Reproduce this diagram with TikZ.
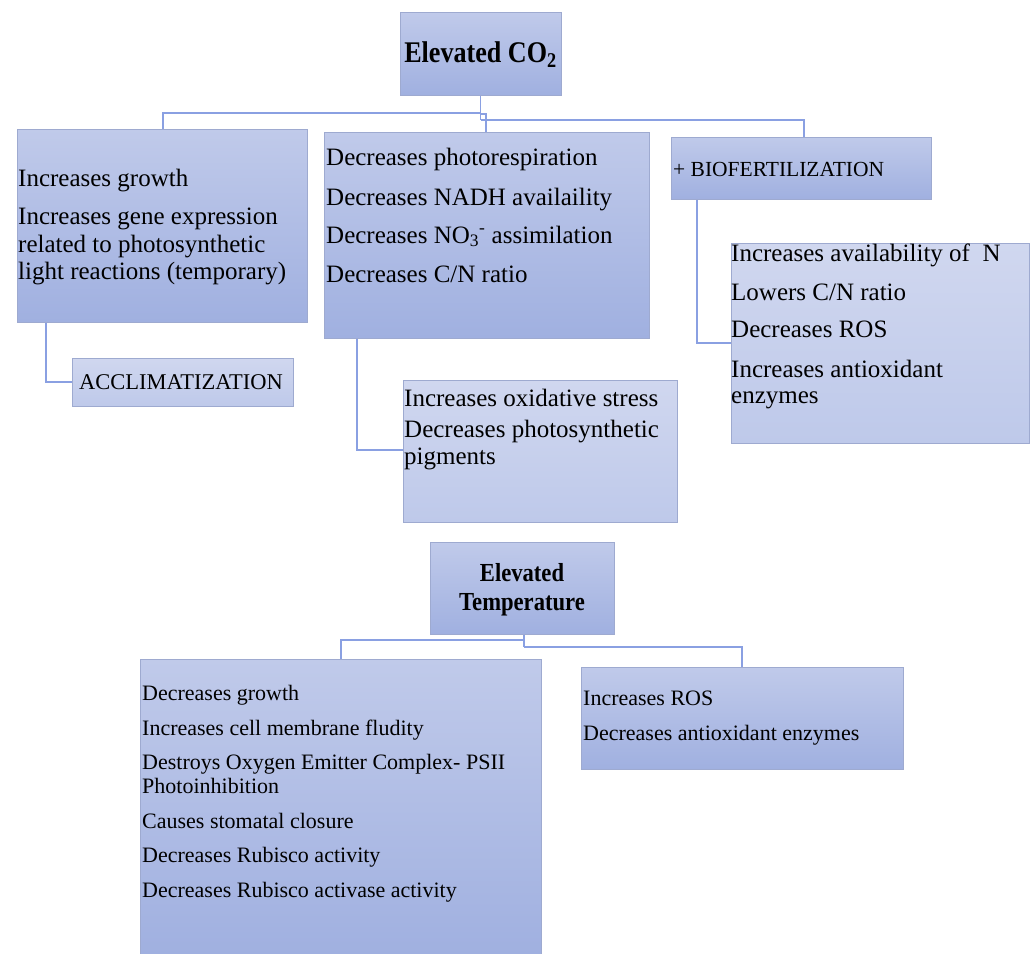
\documentclass[tikz,border=0pt]{standalone}
\usepackage{fontspec}
\setmainfont{Liberation Serif}
\newfontfamily\titlefont[FakeStretch=0.87]{Liberation Serif}
\definecolor{dtop}{RGB}{192,202,234}
\definecolor{dbot}{RGB}{160,176,224}
\definecolor{ltop}{RGB}{208,215,239}
\definecolor{lbot}{RGB}{190,201,234}
\definecolor{boxborder}{RGB}{158,170,208}
\definecolor{conncol}{RGB}{138,160,226}
\begin{document}
\begin{tikzpicture}[x=1pt,y=-1pt,
  box/.style={draw=boxborder, line width=1pt, inner sep=0pt, rectangle},
  dbox/.style={box, top color=dtop, bottom color=dbot},
  lbox/.style={box, top color=ltop, bottom color=lbot},
  txt/.style={anchor=base west, inner sep=0pt, font=\fontsize{25}{27.5}\selectfont},
  stxt/.style={anchor=base west, inner sep=0pt, font=\fontsize{22}{25}\selectfont},
  ctxt/.style={anchor=base west, inner sep=0pt, font=\fontsize{22.5}{25}\selectfont},
  btxt/.style={anchor=base west, inner sep=0pt, font=\fontsize{21.5}{25}\selectfont},
  ttl/.style={anchor=base, inner sep=0pt, font=\titlefont\bfseries\fontsize{30}{30}\selectfont},
  ttls/.style={anchor=base, inner sep=0pt, font=\titlefont\bfseries\fontsize{26}{26}\selectfont},
  conn/.style={draw=conncol, line width=1.3pt}]
\useasboundingbox[fill=white] (0,0) rectangle (1033,953);

% boxes
\node[dbox, minimum width=161pt, minimum height=83pt] (co2) at (480.5,53.5) {};
\node[dbox, minimum width=290pt, minimum height=193pt] (b1) at (162,225.5) {};
\node[lbox, minimum width=221pt, minimum height=48pt] (accl) at (182.5,382) {};
\node[dbox, minimum width=325pt, minimum height=206pt] (b2) at (486.5,235) {};
\node[dbox, minimum width=260pt, minimum height=62pt] (bio) at (801,168) {};
\node[lbox, minimum width=298pt, minimum height=200pt] (b4) at (880,343) {};
\node[lbox, minimum width=274pt, minimum height=142pt] (b5) at (540,451) {};
\node[dbox, minimum width=184pt, minimum height=92pt] (temp) at (522,588) {};
\node[dbox, minimum width=401pt, minimum height=296pt] (b6) at (340.5,807) {};
\node[dbox, minimum width=322pt, minimum height=102pt] (b7) at (742,718) {};

% connector junctions
\coordinate (j1) at (480.5,113);
\coordinate (j1l) at (163,113);
\coordinate (j2) at (486,114);
\coordinate (j3) at (480.5,120);
\coordinate (j3r) at (804,120);
\coordinate (a1) at (46,382);
\coordinate (a2) at (357,450);
\coordinate (a3) at (697,343);
\coordinate (t1) at (524,640);
\coordinate (t1l) at (341,640);
\coordinate (t2) at (524,647);
\coordinate (t2r) at (742,647);

\draw[conn] (co2.south) -- (j3);
\draw[conn] (j1) -- (j1l) -- (j1l |- b1.north);
\draw[conn] (j1 |- j2) -- (j2) -- (j2 |- b2.north);
\draw[conn] (j3) -- (j3r) -- (j3r |- bio.north);
\draw[conn] (a1 |- b1.south) -- (a1) -- (accl.west);
\draw[conn] (a2 |- b2.south) -- (a2) -- (a2 -| b5.west);
\draw[conn] (a3 |- bio.south) -- (a3) -- (a3 -| b4.west);
\draw[conn] (t1 |- temp.south) -- (t2);
\draw[conn] (t1) -- (t1l) -- (t1l |- b6.north);
\draw[conn] (t2) -- (t2r) -- (t2r |- b7.north);

% titles
\node[ttl] (co2t) at (480.5,62) {Elevated CO\textsubscript{2}};
\node[ttls] (tempt1) at (522,581) {Elevated};
\node[ttls] (tempt2) at (522,610) {Temperature};

% box 1
\node[txt] (b1l1) at (18,186) {Increases growth};
\node[txt] (b1l2) at (18,224) {Increases gene expression};
\node[txt] (b1l3) at (18,252) {related to photosynthetic};
\node[txt] (b1l4) at (18,279) {light reactions (temporary)};
\node[ctxt] (accll) at (79,389) {ACCLIMATIZATION};

% box 2
\node[txt] (b2l1) at (326,165) {Decreases photorespiration};
\node[txt] (b2l2) at (326,205) {Decreases NADH availaility};
\node[txt] (b2l3) at (326,243) {Decreases NO\textsubscript{3}\textsuperscript{-} assimilation};
\node[txt] (b2l4) at (326,282) {Decreases C/N ratio};

% box 5
\node[txt] (b5l1) at (404,406) {Increases oxidative stress};
\node[txt] (b5l2) at (404,437) {Decreases photosynthetic};
\node[txt] (b5l3) at (404,464) {pigments};

% biofertilization
\node[btxt] (biol) at (673,176) {+ BIOFERTILIZATION};
\node[txt] (b4l1) at (731,261) {Increases availability of \ N};
\node[txt] (b4l2) at (731,300) {Lowers C/N ratio};
\node[txt] (b4l3) at (731,337) {Decreases ROS};
\node[txt] (b4l4) at (731,377) {Increases antioxidant};
\node[txt] (b4l5) at (731,403) {enzymes};

% box 6
\node[stxt] (b6l1) at (142,700) {Decreases growth};
\node[stxt] (b6l2) at (142,735) {Increases cell membrane fludity};
\node[stxt] (b6l3) at (142,769) {Destroys Oxygen Emitter Complex- PSII};
\node[stxt] (b6l4) at (142,793) {Photoinhibition};
\node[stxt] (b6l5) at (142,828) {Causes stomatal closure};
\node[stxt] (b6l6) at (142,862) {Decreases Rubisco activity};
\node[stxt] (b6l7) at (142,897) {Decreases Rubisco activase activity};

% box 7
\node[stxt] (b7l1) at (583,705) {Increases ROS};
\node[stxt] (b7l2) at (583,740) {Decreases antioxidant enzymes};
\end{tikzpicture}
\end{document}
